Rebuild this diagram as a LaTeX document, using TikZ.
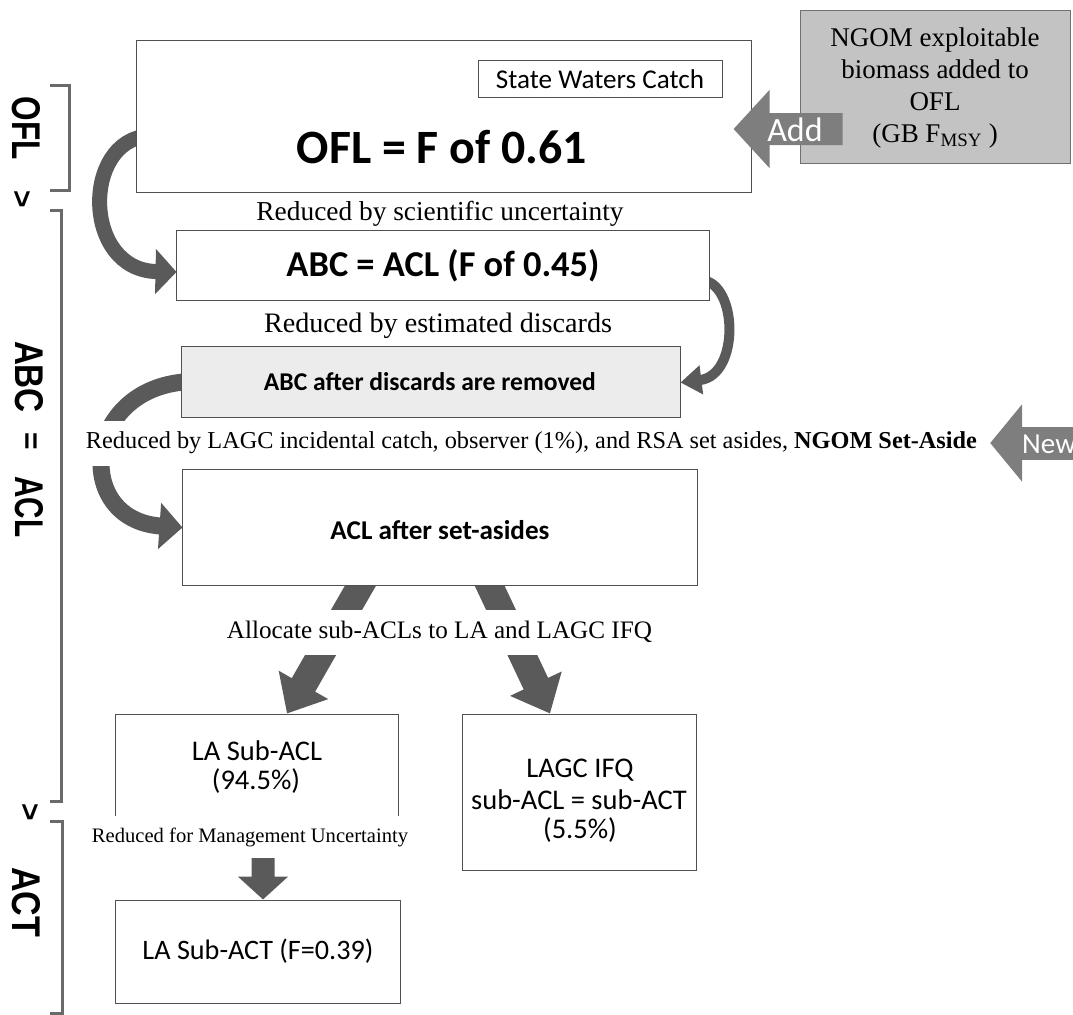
\documentclass[tikz,border=0pt]{standalone}
\usepackage{fontspec}
\usepackage{graphicx}
\setmainfont{Liberation Serif}
\newfontfamily\calfont{Carlito}
\newfontfamily\arialfont{Liberation Sans}
\usetikzlibrary{arrows.meta}
\pgfdeclarelayer{background}
\pgfsetlayers{background,main}
\newcommand\fw[2]{\resizebox{#1bp}{!}{#2}}
\newcommand\fwh[3]{\resizebox{#1bp}{#2bp}{#3}}
\definecolor{boxline}{HTML}{505050}
\definecolor{darrow}{HTML}{5A5A5A}
\definecolor{addgray}{HTML}{7E7E7E}
\definecolor{ngomfill}{HTML}{C3C3C3}
\definecolor{ngomline}{HTML}{707070}
\definecolor{discfill}{HTML}{ECECEC}
\definecolor{brk}{HTML}{6A6A6A}
\begin{document}
\begin{tikzpicture}[x=1bp,y=-1bp,
  box/.style={draw=boxline, line width=1bp, fill=white, inner sep=0pt},
  sanslbl/.style={inner sep=0pt, font=\calfont\fontsize{24bp}{28bp}\selectfont},
  boxtxt/.style={inner sep=0pt, font=\calfont\fontsize{28.5bp}{30bp}\selectfont},
  seriflbl/.style={inner sep=0pt, font=\fontsize{24bp}{28bp}\selectfont},
  side/.style={inner sep=0pt, rotate=-90, font=\arialfont\bfseries\fontsize{30bp}{30bp}\selectfont},
  bracket/.style={draw=brk, line width=3bp},
  fatarrow/.style={draw=darrow},
  grayarrow/.style={draw=addgray},
]
\useasboundingbox (0,0) rectangle (1073,1015);

% ---------- boxes ----------
\node[box, minimum width=614bp, minimum height=152bp] (ofl) at (444,116) {};
\node[box, minimum width=244bp, minimum height=37bp] (swc) at (600,78.5) {};
\node[sanslbl] (swct) at (600,79) {\fw{208}{State Waters Catch}};
\node[sanslbl] (oflt) at (442,147) {\fw{290}{\bfseries OFL = F of 0.61}};

\node[box, fill=ngomfill, draw=ngomline, minimum width=270bp, minimum height=153bp] (ngom) at (935,86.5) {};
\node[inner sep=0pt, align=center, font=\fontsize{27bp}{32bp}\selectfont] (ngomt) at (935,88)
  {NGOM exploitable\\biomass added to\\OFL\\(GB F\textsubscript{MSY} )};

\node[box, minimum width=532bp, minimum height=70bp] (abc) at (443,265) {};
\node[sanslbl] (abct) at (443,266) {\fw{313}{\bfseries ABC = ACL (F of 0.45)}};

\node[box, fill=discfill, minimum width=498bp, minimum height=71bp] (disc) at (431,381.5) {};
\node[sanslbl] (disct) at (430,382) {\fw{332}{\bfseries ABC after discards are removed}};

\node[box, minimum width=514bp, minimum height=116bp] (acl) at (440,527.5) {};
\node[sanslbl] (aclt) at (440,530) {\fw{219}{\bfseries ACL after set-asides}};

\node[box, minimum width=282bp, minimum height=104bp] (lasub) at (257,766) {};
\node[boxtxt] (lasubt1) at (257,751) {LA Sub-ACL};
\node[boxtxt] (lasubt2) at (256,781) {(94.5\%)};

\node[box, minimum width=234bp, minimum height=156bp] (lagc) at (579,792) {};
\node[boxtxt] (lagct1) at (580,770) {LAGC IFQ};
\node[boxtxt] (lagct2) at (579,800) {sub-ACL = sub-ACT};
\node[boxtxt] (lagct3) at (580,830) {(5.5\%)};

\node[box, minimum width=284bp, minimum height=103bp] (lasubact) at (258,951.5) {};
\node[sanslbl] (lasubactt) at (258,951) {\fw{231}{LA Sub-ACT (F=0.39)}};

% ---------- labels ----------
\node[seriflbl] (sci) at (440,214) {\fw{367}{Reduced by scientific uncertainty}};
\node[seriflbl] (est) at (438,326) {\fw{348}{Reduced by estimated discards}};
\node[seriflbl, fill=white, minimum height=45bp] (long) at (531.5,443)
  {\fw{891}{Reduced by LAGC incidental catch, observer (1\%), and RSA set asides, \textbf{NGOM Set-Aside}}};
\node[seriflbl, fill=white, minimum height=45bp, inner xsep=4bp] (alloc) at (439.5,632)
  {\fw{425}{Allocate sub-ACLs to LA and LAGC IFQ}};
\node[seriflbl, fill=white, minimum height=42bp, inner xsep=4bp] (mgmt) at (250,837)
  {\fw{316}{Reduced for Management Uncertainty}};

% ---------- side brackets ----------
\draw[bracket] (50,85) -- (69,85) -- (69,190) -- (50,190);
\draw[bracket] (50,210) -- (61,210) -- (61,801) -- (50,801);
\draw[bracket] (50,821) -- (62,821) -- (62,1013) -- (50,1013);
\node[side] (sofl) at (26,128) {\fwh{63}{28}{OFL}};
\node[side] (sgt1) at (22,199) {>};
\node[side] (sabc) at (29,377) {\fwh{72}{28}{ABC}};
\node[side] (seq) at (29,441) {=};
\node[side] (sacl) at (29,507) {\fwh{61}{28}{ACL}};
\node[side] (sgt2) at (30,812) {>};
\node[side] (sact) at (26,902) {\fwh{70}{28}{ACT}};

% ---------- arrows behind boxes ----------
\begin{pgfonlayer}{background}
\draw[fatarrow, line width=15bp, -{Triangle[width=44bp 0 0, length=21bp 0 0]}]
  ([xshift=12bp, yshift=-20bp]ofl.west) .. controls (82,140) and (82,270) .. ([yshift=-7bp]abc.west);
\draw[fatarrow, line width=10bp, -{Triangle[width=28bp 0 0, length=21bp 0 0]}]
  ([xshift=-8bp, yshift=-15bp]abc.east) .. controls (738,283) and (740,375) .. ([yshift=-1bp]disc.east);
\draw[fatarrow, line width=17bp, -{Triangle[width=45bp 0 0, length=23bp 0 0]}]
  ([xshift=10bp]disc.west) .. controls (82,385) and (72,520) .. (acl.west);
\draw[fatarrow, line width=27bp, -{Triangle[width=55bp 0 0, length=33bp 0 0]}]
  ([xshift=-74bp, yshift=10bp]acl.south) -- ([xshift=30bp]lasub.north);
\draw[fatarrow, line width=27bp, -{Triangle[width=55bp 0 0, length=33bp 0 0]}]
  ([xshift=45bp, yshift=10bp]acl.south) -- ([xshift=-29bp]lagc.north);
\draw[fatarrow, line width=23bp, -{Triangle[width=49bp 0 0, length=23bp 0 0]}]
  ([xshift=6bp]lasub.south) -- ([xshift=5bp]lasubact.north);
\end{pgfonlayer}

% ---------- Add / New arrows ----------
\draw[grayarrow, line width=32bp, -{Triangle[width=76bp 0 0, length=36bp 0 0]}]
  ([xshift=43bp, yshift=-42.5bp]ngom.west) -- ([xshift=-18bp, yshift=-13bp]ofl.east);
\node[inner sep=0pt, text=white, font=\calfont\fontsize{34bp}{34bp}\selectfont] (addt) at (795,130) {Add};

\coordinate (newtail) at (1095,443);
\draw[grayarrow, line width=33bp, -{Triangle[width=76bp 0 0, length=32bp 0 0]}]
  (newtail) -- ([xshift=13bp]long.east);
\node[inner sep=0pt, anchor=west, text=white, font=\calfont\fontsize{29bp}{29bp}\selectfont] (newt) at (1022,444) {New};
\end{tikzpicture}
\end{document}
